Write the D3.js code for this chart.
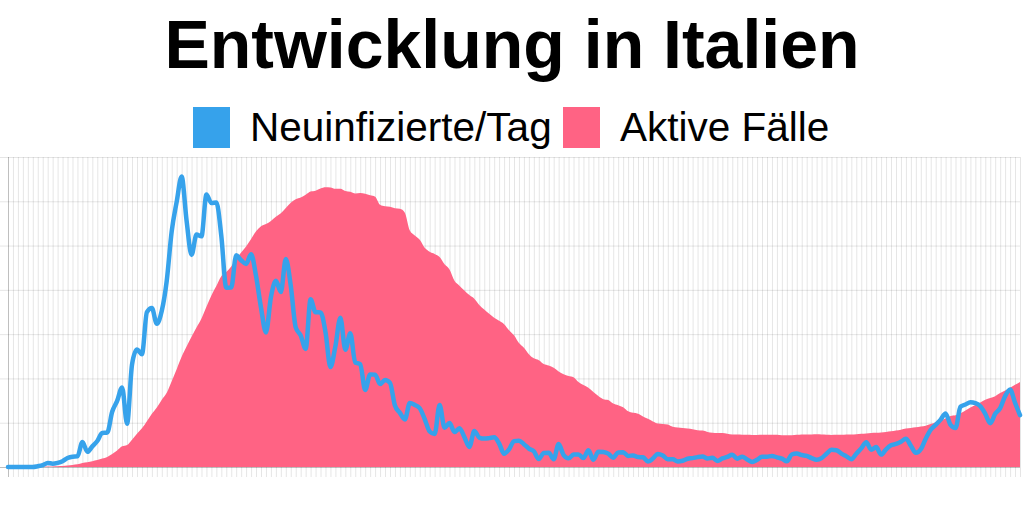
<!DOCTYPE html>
<html lang="de">
<head>
<meta charset="UTF-8">
<title>Entwicklung in Italien</title>
<script src="https://cdn.jsdelivr.net/npm/d3@7"></script>
<style>
  body { margin: 0; background: #fff; }
  svg { display: block; font-family: "Liberation Sans", Arial, sans-serif; }
</style>
</head>
<body>
<svg width="1024" height="512"></svg>
<script>
// Tage 15.02.2020 - 06.09.2020
var tage = d3.utcDay.range(new Date(Date.UTC(2020, 1, 15)), new Date(Date.UTC(2020, 8, 7)));

// Neuinfizierte pro Tag
var neuinfizierte = [
  0, 0, 0, 0, 0, 0,
  17, 42, 93, 74, 93, 131, 202, 233, 240,
  566, 342, 466, 587, 769, 778, 1247, 1492, 1797, 977,
  2313, 2651, 2547, 3497, 3590, 3233, 3526, 4207, 5322, 5986,
  6557, 5560, 4789, 5249, 5210, 6153, 5959, 5974, 5217, 4050,
  4053, 4782, 4668, 4585, 4805, 4316, 3599, 3039, 3836, 4204,
  3951, 4694, 4092, 3153, 2972, 2667, 3786, 3493, 3491, 3047,
  2256, 2729, 3370, 2646, 3021, 2357, 2324, 1739, 2091, 2086,
  1872, 1965, 1900, 1389, 1221, 1075, 1444, 1401, 1327, 1083,
  802, 744, 1402, 888, 992, 789, 875, 675, 451, 813,
  665, 642, 652, 669, 531, 300, 397, 584, 593, 516,
  416, 355, 178, 318, 321, 177, 518, 270, 197, 280,
  283, 202, 379, 163, 346, 338, 301, 210, 329, 333,
  251, 262, 224, 218, 122, 190, 296, 259, 175, 174,
  126, 142, 187, 201, 223, 235, 192, 208, 138, 193,
  229, 276, 188, 234, 169, 114, 162, 230, 233, 249,
  219, 190, 129, 282, 306,
  270, 250, 200, 165, 200, 300, 390, 380, 300, 240,
  175, 300, 420, 560, 390, 450, 280, 400, 490, 520,
  570, 640, 480, 320, 400, 640, 840, 950, 1070, 1210,
  950, 880, 1360, 1410, 1460, 1440, 1370, 1200, 990, 1200,
  1330, 1600, 1750, 1450, 1170
];

// aktive Fälle
var aktiveFaelle = [
  3, 3, 3, 3, 3, 3,
  19, 59, 150, 221, 311, 385, 588, 821, 1049,
  1577, 1835, 2263, 2706, 3296, 3916, 5061, 6387, 7985, 8514,
  10590, 12839, 14955, 17750, 20603, 23073, 26062, 28710, 33190, 37860,
  42681, 46638, 50418, 54030, 57521, 62013, 66414, 70065, 73880, 75528,
  77635, 80572, 83049, 85388, 88274, 91246, 93187, 94067, 95262, 96877,
  98273, 100269, 102253, 103616, 104291, 105418, 106607, 106962, 107771, 108257,
  108237, 107709, 107699, 106848, 106527, 105847, 106103, 105813, 105205, 104657,
  101551, 100943, 100704, 100179, 99980, 98467, 91528, 89624, 87961, 84842,
  83324, 82488, 81266, 78457, 76440, 72070, 70187, 68351, 66553, 65129,
  62752, 60960, 59322, 57752, 56594, 55300, 52942, 50966, 47986, 46175,
  43691, 42075, 41367, 39893, 39297, 38429, 36976, 35877, 35262, 34730,
  32872, 31710, 30637, 28997, 27485, 26274, 25909, 24569, 23925, 23101,
  21543, 20972, 20637, 19573, 18655, 17638, 16836, 16681, 16496, 15563,
  15255, 15060, 14884, 14621, 14242, 14099, 13595, 13303, 13179, 13157,
  12919, 12565, 12581, 12493, 12456, 12404, 12368, 12440, 12456, 12494,
  12473, 12248, 12322, 12301, 12442,
  12581, 12565, 12609, 12646, 12565, 12482, 12404, 12456, 12482, 12616,
  12581, 12694, 12839, 13000, 13209, 13263, 13368, 13595, 13791, 14081,
  14406, 14867, 15089, 15360, 15688, 16014, 16600, 17300, 18000, 18800,
  19700, 20000, 20800, 21900, 23000, 24000, 25000, 26000, 26700, 27400,
  28600, 29600, 30700, 31800, 32900
];

var titel = "Entwicklung in Italien";
var legende = ["Neuinfizierte/Tag", "Aktive Fälle"];
var farben = ["#36A2EB", "#FF6384"];

var svg = d3.select('svg'),
    plotLeft = 8, plotRight = 1020, plotTop = 157, plotBottom = 467;

var x = d3.scalePoint().domain(tage.map(function(d){ return +d; })).range([plotLeft, plotRight]);
var yNeu = d3.scaleLinear().domain([0, 7000]).range([plotBottom, plotTop]);
var yAktiv = d3.scaleLinear().domain([0, 120000]).range([plotBottom, plotTop]);

// Gitter x
var gx = svg.append('g')
    .attr('transform', 'translate(0,' + (plotBottom + 10) + ')')
    .call(d3.axisBottom(x).tickSize(-(plotBottom + 10 - plotTop)).tickFormat(''));
gx.select('.domain').remove();
gx.selectAll('line').attr('stroke', 'rgba(0,0,0,0.1)');
gx.selectAll('.tick').filter(function(d, i){ return i === 0; })
    .select('line').attr('stroke', 'rgba(0,0,0,0.25)');

// Gitter y
var gy = svg.append('g')
    .call(d3.axisLeft(yNeu).ticks(7).tickSize(-plotRight).tickFormat(''));
gy.select('.domain').remove();
gy.selectAll('line').attr('stroke', 'rgba(0,0,0,0.1)');
gy.selectAll('.tick').filter(function(d){ return d === 0; })
    .select('line').attr('stroke', 'rgba(0,0,0,0.25)');

// Fläche aktive Fälle
var area = d3.area()
    .x(function(d, i){ return x(+tage[i]); })
    .y0(yAktiv(0))
    .y1(function(d){ return yAktiv(d); })
    .curve(d3.curveMonotoneX);
svg.append('path')
    .datum(aktiveFaelle)
    .attr('fill', farben[1])
    .attr('d', area);

// Linie Neuinfizierte
var line = d3.line()
    .x(function(d, i){ return x(+tage[i]); })
    .y(function(d){ return yNeu(d); })
    .curve(d3.curveMonotoneX);
svg.append('path')
    .datum(neuinfizierte)
    .attr('fill', 'none')
    .attr('stroke', farben[0])
    .attr('stroke-width', 4.5)
    .attr('stroke-linejoin', 'round')
    .attr('stroke-linecap', 'round')
    .attr('d', line);

// Titel
svg.append('text')
    .attr('x', 512)
    .attr('y', 68)
    .attr('text-anchor', 'middle')
    .attr('font-size', '68px')
    .attr('font-weight', 'bold')
    .attr('fill', '#000')
    .text(titel);

// Legende
var legPos = [193, 563];
var lg = svg.append('g').selectAll('g')
    .data(legende)
    .enter().append('g')
    .attr('transform', function(d, i){ return 'translate(' + legPos[i] + ',0)'; });
lg.append('rect')
    .attr('y', 107)
    .attr('width', 37)
    .attr('height', 41)
    .attr('fill', function(d, i){ return farben[i]; });
lg.append('text')
    .attr('x', 57)
    .attr('y', 141)
    .attr('font-size', '40.5px')
    .attr('fill', '#000')
    .text(function(d){ return d; });
</script>
</body>
</html>
